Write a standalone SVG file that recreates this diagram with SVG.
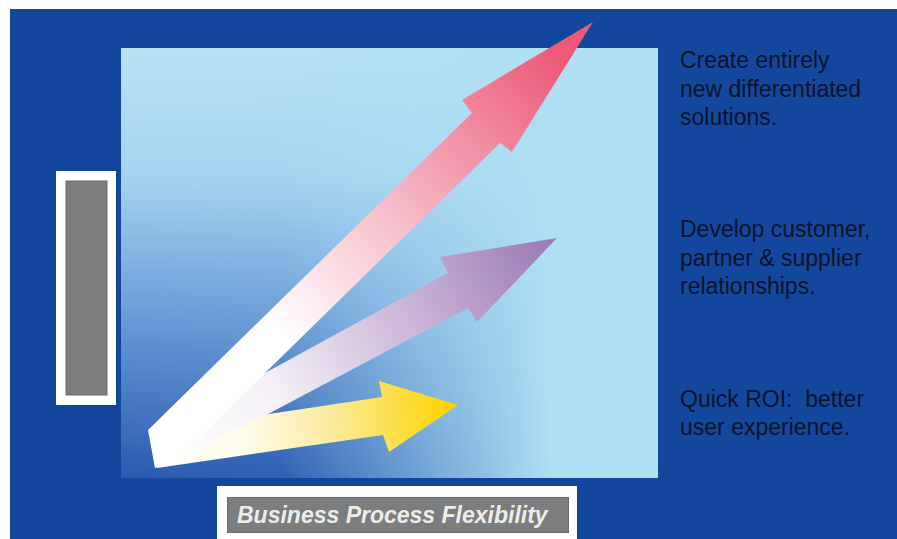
<svg xmlns="http://www.w3.org/2000/svg" width="897" height="539" viewBox="0 0 897 539">
  <style>
    .lbl { font-family: "Liberation Sans", Arial, sans-serif; font-size: 23px; fill: #0b1329; }
    .axis { font-family: "Liberation Sans", Arial, sans-serif; font-size: 23px; font-weight: bold; font-style: italic; fill: #ececec; }
    .frame { fill: #ffffff; }
    .bar { fill: #7b7d7e; stroke: #6a6c6d; stroke-width: 1; }
  </style>
  <defs>
    <linearGradient id="panelV" x1="0" y1="0" x2="0" y2="1">
      <stop offset="0" stop-color="#b9e2f4"/>
      <stop offset="0.3" stop-color="#a5d3ef"/>
      <stop offset="0.62" stop-color="#6a9cd8"/>
      <stop offset="1" stop-color="#285ab0"/>
    </linearGradient>
    <linearGradient id="panelH" x1="0" y1="0" x2="1" y2="0">
      <stop offset="0" stop-color="#aedff3" stop-opacity="0"/>
      <stop offset="0.3" stop-color="#aedff3" stop-opacity="0.05"/>
      <stop offset="0.8" stop-color="#aedff3" stop-opacity="1"/>
      <stop offset="1" stop-color="#b0e0f3" stop-opacity="1"/>
    </linearGradient>
    <linearGradient id="gRed" gradientUnits="userSpaceOnUse" x1="160" y1="450" x2="560" y2="60">
      <stop offset="0" stop-color="#ffffff"/>
      <stop offset="0.3" stop-color="#ffffff"/>
      <stop offset="0.6" stop-color="#f6bcc8"/>
      <stop offset="1" stop-color="#ec5a78"/>
    </linearGradient>
    <linearGradient id="gPurple" gradientUnits="userSpaceOnUse" x1="160" y1="450" x2="540" y2="250">
      <stop offset="0" stop-color="#ffffff"/>
      <stop offset="0.3" stop-color="#f4f0f6"/>
      <stop offset="0.6" stop-color="#d2bfdc"/>
      <stop offset="1" stop-color="#9f7fb8"/>
    </linearGradient>
    <linearGradient id="gYellow" gradientUnits="userSpaceOnUse" x1="160" y1="440" x2="450" y2="410">
      <stop offset="0" stop-color="#ffffff"/>
      <stop offset="0.3" stop-color="#fffbe8"/>
      <stop offset="0.6" stop-color="#faeb9a"/>
      <stop offset="1" stop-color="#ffd300"/>
    </linearGradient>
  </defs>

  <rect x="0" y="0" width="897" height="539" fill="#ffffff"/>
  <rect x="10" y="9" width="887" height="530" fill="#13479e"/>

  <g id="panel">
    <rect x="121" y="48" width="537" height="430" fill="url(#panelV)"/>
    <rect x="121" y="48" width="537" height="430" fill="url(#panelH)"/>
  </g>

  <g id="arrows">
    <polygon id="arrow-yellow" fill="url(#gYellow)" points="150,432 382,397 379,381 458,405 389,452 383,435 157,468"/>
    <polygon id="arrow-purple" fill="url(#gPurple)" points="150,436 448,273 440,257 557,238 477,322 468,308 270,413 160,466"/>
    <polygon id="arrow-red" fill="url(#gRed)" points="148,430 472,113 462,100 593,22 512,152 500,143 176,460 155,468"/>
  </g>

  <g id="y-axis">
    <rect class="frame" x="56" y="171" width="60" height="234"/>
    <rect class="bar" x="66" y="181" width="41" height="214"/>
  </g>

  <g id="x-axis">
    <rect class="frame" x="217" y="486" width="360" height="60"/>
    <rect class="bar" x="227.5" y="497.5" width="341" height="35"/>
    <text class="axis" x="237" y="523">Business Process Flexibility</text>
  </g>

  <g id="label-top">
    <text class="lbl" x="680" y="68">Create entirely</text>
    <text class="lbl" x="680" y="97">new differentiated</text>
    <text class="lbl" x="680" y="125">solutions.</text>
  </g>
  <g id="label-middle">
    <text class="lbl" x="680" y="237">Develop customer,</text>
    <text class="lbl" x="680" y="266">partner &amp; supplier</text>
    <text class="lbl" x="680" y="294">relationships.</text>
  </g>
  <g id="label-bottom">
    <text class="lbl" x="680" y="407" xml:space="preserve">Quick ROI:  better</text>
    <text class="lbl" x="680" y="435">user experience.</text>
  </g>
</svg>
